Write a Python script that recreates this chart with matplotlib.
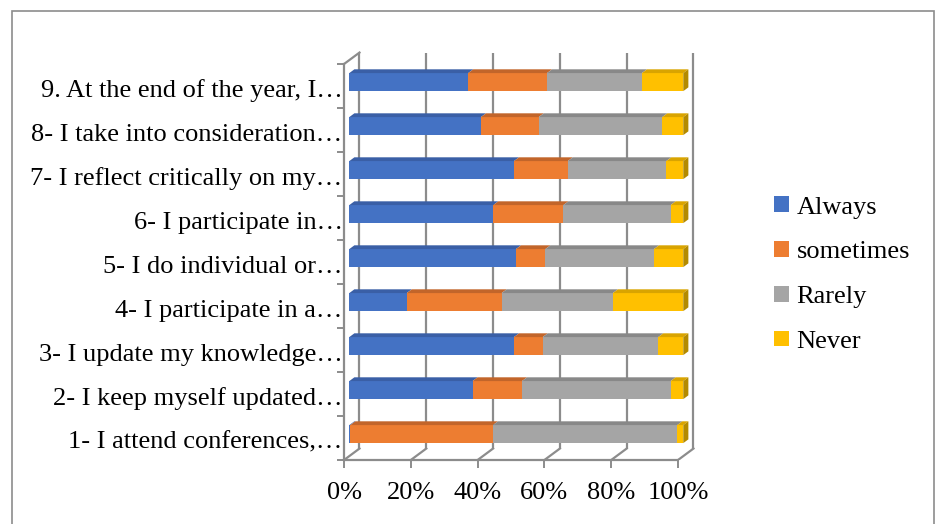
import numpy as np
import matplotlib
matplotlib.use('Agg')
import matplotlib.pyplot as plt
from matplotlib.patches import Polygon, Patch, Rectangle

# Data (percent of answers per statement, bottom to top)
categories = [
    '1- I attend conferences,…',
    '2- I keep myself updated…',
    '3- I update my knowledge…',
    '4- I participate in a…',
    '5- I do individual or…',
    '6- I participate in…',
    '7- I reflect critically on my…',
    '8- I take into consideration…',
    '9. At the end of the year, I…',
]
always = [0.3, 36.9, 49.3, 17.2, 49.9, 43.1, 49.3, 39.4, 35.6]
sometimes = [42.7, 14.8, 8.6, 28.4, 8.8, 21.0, 16.1, 17.3, 23.6]
rarely = [55.2, 44.5, 34.6, 33.3, 32.5, 32.1, 29.5, 37.0, 28.4]
never = [1.8, 3.8, 7.5, 21.1, 8.8, 3.8, 5.1, 6.3, 12.4]
series_names = ['Always', 'sometimes', 'Rarely', 'Never']
x_ticks = [0, 20, 40, 60, 80, 100]
x_ticklabels = ['0%', '20%', '40%', '60%', '80%', '100%']

colors = ['#4472C4', '#ED7D31', '#A5A5A5', '#FFC000']
top_colors = ['#3A5FA6', '#C2652A', '#888888', '#D9A400']
side_color = '#B38A00'
grid_c = '#8C8C8C'

# fake 3D depth (in data units)
DX = 4.64
DY = 0.261
Z0, Z1 = 0.34, 0.67
H = 0.41

plt.rcParams['font.family'] = ['Liberation Serif', 'DejaVu Serif']
FS = 19

fig = plt.figure(figsize=(9.35, 5.24), dpi=100)
ax = fig.add_axes([0.3572, 0.1221, 0.7537 - 0.3572, 0.9198 - 0.1221])
ax.set_xlim(-3, 108)
ax.set_ylim(-0.5, 9.0)

n = len(categories)
y = np.arange(n)

# walls / gridlines
for xv in x_ticks:
    ax.plot([xv + DX, xv + DX], [-0.5 + DY, n - 0.5 + DY], color=grid_c, lw=1.6, zorder=1,
            solid_capstyle='butt')
    ax.plot([xv, xv + DX], [-0.5, -0.5 + DY], color=grid_c, lw=1.6, zorder=1)
ax.plot([0, DX], [n - 0.5, n - 0.5 + DY], color=grid_c, lw=1.6, zorder=1)

# stacked bars
vals = np.array([always, sometimes, rarely, never])
lefts = np.vstack([np.zeros(n), np.cumsum(vals, axis=0)[:-1]])
for j in range(4):
    ax.barh(y + Z0 * DY, vals[j], left=lefts[j] + Z0 * DX, height=H,
            color=colors[j], zorder=3, label=series_names[j])
    for i in range(n):
        l = lefts[j][i]
        r = l + vals[j][i]
        yt = y[i] + H / 2
        top = [(l + Z0 * DX, yt + Z0 * DY), (r + Z0 * DX, yt + Z0 * DY),
               (r + Z1 * DX, yt + Z1 * DY), (l + Z1 * DX, yt + Z1 * DY)]
        ax.add_patch(Polygon(top, closed=True, color=top_colors[j], lw=0, zorder=3))
        if j == 3:
            yb = y[i] - H / 2
            side = [(r + Z0 * DX, yb + Z0 * DY), (r + Z1 * DX, yb + Z1 * DY),
                    (r + Z1 * DX, yt + Z1 * DY), (r + Z0 * DX, yt + Z0 * DY)]
            ax.add_patch(Polygon(side, closed=True, color=side_color, lw=0, zorder=3))

for s in ['top', 'right']:
    ax.spines[s].set_visible(False)
ax.spines['bottom'].set_bounds(0, 100)
ax.spines['bottom'].set_color(grid_c)
ax.spines['bottom'].set_linewidth(1.6)
ax.spines['left'].set_position(('data', 0))
ax.spines['left'].set_bounds(-0.5, n - 0.5)
ax.spines['left'].set_color(grid_c)
ax.spines['left'].set_linewidth(1.6)

ax.set_xticks(x_ticks)
ax.set_xticklabels(x_ticklabels, fontsize=FS)
ax.tick_params(axis='x', length=6, width=1.4, color=grid_c, pad=10)
ax.set_yticks(np.arange(n + 1) - 0.5)
ax.set_yticklabels([])
ax.tick_params(axis='y', which='major', length=5, width=1.4, color=grid_c)
ax.set_yticks(y - 0.05, categories, minor=True, fontsize=FS)
ax.tick_params(axis='y', which='minor', length=0, pad=1)

# legend
handles = [Patch(facecolor=c, label=nm) for c, nm in zip(colors, series_names)]
fig.legend(handles=handles, loc='center left', bbox_to_anchor=(0.828, 0.476),
           frameon=False, fontsize=FS, handlelength=0.55, handleheight=0.55,
           handletextpad=0.3, labelspacing=0.85, borderpad=0, borderaxespad=0)

# chart border
fig.patches.append(Rectangle((12 / 935, -0.05), (934 - 12) / 935, 1.05 - 11 / 524,
                             transform=fig.transFigure, fill=False,
                             edgecolor='#8C8C8C', lw=1.2))

fig.savefig('out.png', dpi=100)
